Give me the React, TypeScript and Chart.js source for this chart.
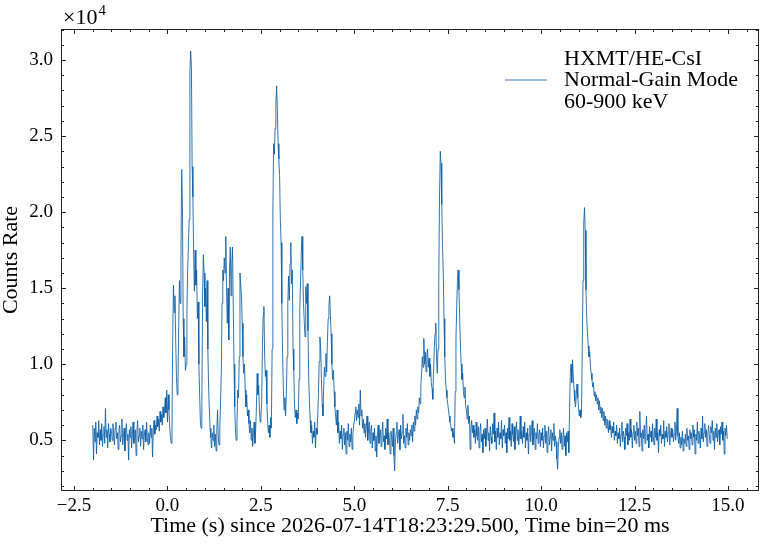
"use client"

import { useEffect, useRef } from "react"
import { Chart, registerables } from "chart.js"

Chart.register(...registerables)

// light curve: 20 ms bins starting at T0 - 2 s, rate in units of 1e4 counts/s
const BIN_START = -2.0
const BIN_WIDTH = 0.02

// -2.00 .. -0.02 s
const RATE_PRE = [
  0.60, 0.37, 0.58, 0.49, 0.62, 0.41, 0.55, 0.52, 0.63, 0.47, 0.57, 0.50, 0.61, 0.46, 0.54, 0.59, 0.48, 0.71, 0.52, 0.57, 0.45, 0.61, 0.54, 0.49, 0.58,
  0.56, 0.50, 0.61, 0.53, 0.47, 0.58, 0.62, 0.51, 0.55, 0.44, 0.57, 0.60, 0.49, 0.53, 0.64, 0.47, 0.52, 0.58, 0.43, 0.55, 0.61, 0.50, 0.54, 0.37, 0.57,
  0.52, 0.59, 0.45, 0.54, 0.62, 0.48, 0.51, 0.57, 0.40, 0.55, 0.63, 0.49, 0.53, 0.58, 0.46, 0.56, 0.51, 0.60, 0.44, 0.53, 0.57, 0.49, 0.62, 0.52, 0.47,
  0.55, 0.48, 0.60, 0.52, 0.58, 0.39, 0.56, 0.63, 0.54, 0.60, 0.57, 0.66, 0.59, 0.64, 0.56, 0.69, 0.62, 0.67, 0.60, 0.72, 0.65, 0.70, 0.78, 0.68, 0.83,
]

// 0.00 .. 4.98 s, first emission episode
const RATE_BURST_A = [
  0.62, 0.80, 0.70, 0.58, 0.52, 0.48, 0.55, 1.20, 1.52, 1.34, 1.45, 1.15, 0.92, 0.80, 0.86, 1.25, 1.55, 1.40, 1.70, 2.28, 2.05, 1.30, 1.05, 1.18, 0.96,
  1.00, 1.35, 1.62, 1.78, 1.95, 2.92, 3.06, 2.95, 2.30, 2.10, 1.72, 1.48, 1.75, 1.52, 1.62, 1.30, 1.41, 1.00, 0.80, 0.62, 0.58, 0.75, 1.45, 1.72, 1.60,
  1.38, 1.50, 1.28, 1.55, 1.10, 0.85, 0.70, 0.58, 0.52, 0.45, 0.55, 0.50, 0.60, 0.46, 0.54, 0.43, 0.57, 0.70, 0.52, 0.47, 0.58, 0.75, 0.95, 1.40, 1.62,
  1.55, 1.70, 1.60, 1.84, 1.48, 1.27, 1.50, 1.16, 1.62, 1.77, 1.45, 1.66, 1.77, 1.38, 1.00, 0.72, 0.55, 0.50, 0.62, 0.83, 0.78, 1.05, 1.60, 1.52, 1.45,
  1.27, 1.05, 0.94, 1.00, 0.83, 0.72, 0.80, 0.66, 0.70, 0.61, 0.55, 0.63, 0.50, 0.58, 0.46, 0.55, 0.62, 0.48, 0.57, 0.72, 0.94, 0.80, 0.86, 0.70, 0.62,
  0.66, 0.75, 1.10, 1.32, 1.38, 1.05, 0.92, 0.96, 0.74, 0.62, 0.55, 0.60, 0.52, 0.65, 0.58, 1.10, 1.99, 2.45, 2.38, 2.55, 2.70, 2.83, 2.68, 2.45, 2.35,
  2.24, 1.95, 1.80, 1.40, 1.07, 0.85, 0.70, 0.78, 0.66, 0.80, 1.05, 1.40, 1.58, 1.42, 1.66, 1.80, 1.53, 1.62, 1.10, 0.96, 0.74, 0.65, 0.70, 0.61, 0.68,
  0.64, 0.90, 1.35, 1.55, 1.72, 1.84, 1.62, 1.40, 1.28, 1.18, 1.51, 1.40, 1.53, 1.22, 0.90, 0.74, 0.63, 0.55, 0.60, 0.48, 0.56, 0.52, 0.62, 0.45, 0.58,
  0.54, 0.66, 0.80, 1.02, 1.18, 1.10, 0.90, 0.74, 0.66, 0.85, 0.98, 0.92, 1.07, 0.95, 1.15, 1.30, 1.38, 1.45, 1.32, 1.20, 1.00, 0.90, 0.96, 0.82, 0.72,
  0.66, 0.60, 0.70, 0.55, 0.62, 0.48, 0.56, 0.51, 0.60, 0.44, 0.54, 0.58, 0.47, 0.55, 0.41, 0.56, 0.50, 0.61, 0.46, 0.54, 0.49, 0.58, 0.44, 0.53, 0.60,
]

// 5.00 .. 6.48 s
const RATE_GAP = [
  0.62, 0.68, 0.72, 0.63, 0.70, 0.65, 0.74, 0.60, 0.83, 0.66, 0.70, 0.58, 0.64, 0.55, 0.61, 0.52, 0.59, 0.66, 0.50, 0.57, 0.62, 0.48, 0.56, 0.60, 0.45,
  0.55, 0.50, 0.58, 0.43, 0.53, 0.39, 0.55, 0.60, 0.48, 0.52, 0.57, 0.46, 0.54, 0.62, 0.49, 0.53, 0.44, 0.58, 0.51, 0.64, 0.47, 0.55, 0.50, 0.41, 0.56,
  0.52, 0.46, 0.58, 0.40, 0.30, 0.49, 0.55, 0.62, 0.48, 0.53, 0.57, 0.44, 0.60, 0.51, 0.55, 0.67, 0.48, 0.53, 0.45, 0.58, 0.52, 0.61, 0.47, 0.55, 0.50,
]

// 6.50 .. 8.48 s, second episode
const RATE_BURST_B = [
  0.57, 0.53, 0.60, 0.49, 0.62, 0.56, 0.66, 0.60, 0.70, 0.64, 0.72, 0.68, 0.78, 0.74, 0.86, 0.94, 1.05, 0.98, 1.17, 1.00, 1.08, 0.95, 1.06, 1.10, 0.98,
  1.04, 0.92, 1.00, 0.88, 0.84, 0.77, 0.95, 1.10, 1.20, 1.27, 1.05, 0.94, 1.10, 1.55, 2.10, 2.40, 2.32, 2.05, 1.78, 1.60, 1.30, 1.05, 0.90, 0.83, 0.78,
  0.74, 0.70, 0.66, 0.62, 0.60, 0.56, 0.58, 0.52, 0.55, 0.48, 0.82, 1.16, 1.38, 1.55, 1.62, 1.49, 1.30, 1.12, 1.00, 0.90, 0.94, 0.82, 0.78, 0.85, 0.72,
  0.70, 0.64, 0.73, 0.61, 0.66, 0.44, 0.58, 0.63, 0.55, 0.60, 0.52, 0.57, 0.48, 0.62, 0.53, 0.50, 0.59, 0.45, 0.55, 0.61, 0.49, 0.54, 0.42, 0.57, 0.51,
]

// 8.50 .. 10.48 s
const RATE_QUIET = [
  0.58, 0.46, 0.53, 0.64, 0.50, 0.55, 0.43, 0.59, 0.52, 0.48, 0.61, 0.54, 0.68, 0.49, 0.56, 0.44, 0.58, 0.52, 0.62, 0.47, 0.55, 0.51, 0.63, 0.45, 0.57,
  0.53, 0.60, 0.48, 0.55, 0.42, 0.58, 0.51, 0.65, 0.50, 0.56, 0.46, 0.61, 0.54, 0.49, 0.59, 0.44, 0.55, 0.62, 0.50, 0.57, 0.47, 0.53, 0.66, 0.51, 0.56,
  0.48, 0.59, 0.52, 0.62, 0.45, 0.55, 0.50, 0.58, 0.41, 0.54, 0.60, 0.49, 0.56, 0.63, 0.47, 0.53, 0.58, 0.44, 0.55, 0.51, 0.61, 0.48, 0.54, 0.57, 0.46,
  0.55, 0.50, 0.58, 0.45, 0.53, 0.60, 0.48, 0.56, 0.42, 0.54, 0.59, 0.47, 0.52, 0.57, 0.43, 0.55, 0.50, 0.61, 0.46, 0.53, 0.49, 0.38, 0.31, 0.45, 0.52,
]

// 10.50 .. 12.48 s, third episode
const RATE_BURST_C = [
  0.57, 0.48, 0.55, 0.44, 0.51, 0.58, 0.46, 0.53, 0.40, 0.55, 0.49, 0.56, 0.42, 0.70, 0.94, 1.00, 0.88, 1.03, 0.92, 0.83, 0.76, 0.72, 0.80, 0.87, 0.78,
  0.72, 0.66, 0.70, 0.65, 0.68, 1.10, 1.55, 1.93, 2.03, 1.88, 1.49, 1.30, 1.20, 1.12, 1.05, 1.08, 0.98, 0.94, 0.90, 0.85, 0.88, 0.79, 0.82, 0.76, 0.80,
  0.74, 0.78, 0.70, 0.76, 0.68, 0.72, 0.65, 0.71, 0.63, 0.69, 0.60, 0.66, 0.58, 0.64, 0.61, 0.55, 0.63, 0.57, 0.60, 0.52, 0.59, 0.55, 0.62, 0.50, 0.56,
  0.53, 0.60, 0.48, 0.55, 0.51, 0.58, 0.46, 0.54, 0.62, 0.49, 0.56, 0.52, 0.44, 0.58, 0.53, 0.61, 0.47, 0.55, 0.50, 0.64, 0.52, 0.57, 0.45, 0.55, 0.60,
]

// 12.50 .. 14.98 s
const RATE_TAIL = [
  0.50, 0.56, 0.48, 0.62, 0.53, 0.58, 0.46, 0.69, 0.52, 0.55, 0.43, 0.57, 0.51, 0.60, 0.48, 0.55, 0.66, 0.50, 0.54, 0.45, 0.59, 0.52, 0.56, 0.49, 0.61,
  0.53, 0.47, 0.58, 0.52, 0.64, 0.50, 0.55, 0.42, 0.57, 0.53, 0.60, 0.48, 0.54, 0.51, 0.63, 0.46, 0.56, 0.52, 0.59, 0.49, 0.55, 0.61, 0.47, 0.53, 0.58,
  0.52, 0.57, 0.49, 0.54, 0.62, 0.50, 0.56, 0.71, 0.53, 0.48, 0.55, 0.45, 0.52, 0.47, 0.56, 0.43, 0.51, 0.48, 0.54, 0.46, 0.58, 0.50, 0.53, 0.44, 0.57,
  0.51, 0.55, 0.47, 0.60, 0.52, 0.57, 0.41, 0.54, 0.50, 0.62, 0.48, 0.56, 0.53, 0.45, 0.58, 0.51, 0.66, 0.49, 0.55, 0.61, 0.52, 0.57, 0.46, 0.54, 0.60,
  0.53, 0.48, 0.59, 0.55, 0.63, 0.50, 0.56, 0.44, 0.58, 0.52, 0.61, 0.49, 0.55, 0.57, 0.47, 0.59, 0.54, 0.62, 0.50, 0.56, 0.41, 0.58, 0.53, 0.60, 0.51,
]

const RATE = [...RATE_PRE, ...RATE_BURST_A, ...RATE_GAP, ...RATE_BURST_B, ...RATE_QUIET, ...RATE_BURST_C, ...RATE_TAIL]

const X_TICKS = [-2.5, 0, 2.5, 5, 7.5, 10, 12.5, 15]
const Y_TICKS = [0.5, 1.0, 1.5, 2.0, 2.5, 3.0]
const X_MINOR = 0.5
const Y_MINOR = 0.1

const X_TITLE = "Time (s) since 2026-07-14T18:23:29.500, Time bin=20 ms"
const Y_TITLE = "Counts Rate"
const LEGEND_LINES = ["HXMT/HE-CsI", "Normal-Gain Mode", "60-900 keV"]

const LINE_COLOR = "#0C5DA5"
const FONT = "'Liberation Serif', 'Times New Roman', serif"

const fmtTick = (v: number) => v.toFixed(1).replace("-", "\u2212")

// frame, inward ticks on every side, offset text and legend (matplotlib look)
const decor = {
  id: "decor",
  afterDraw(chart: Chart) {
    const { ctx, chartArea: a } = chart
    const xs = chart.scales.x
    const ys = chart.scales.y
    ctx.save()
    ctx.strokeStyle = "#222"
    ctx.lineWidth = 1
    ctx.strokeRect(a.left + 0.5, a.top + 0.5, a.right - a.left - 1, a.bottom - a.top - 1)

    ctx.beginPath()
    for (let k = Math.ceil(xs.min / X_MINOR); k * X_MINOR <= xs.max; k++) {
      const v = k * X_MINOR
      const major = X_TICKS.some((t) => Math.abs(t - v) < 1e-6)
      const len = major ? 5 : 3
      const px = Math.round(xs.getPixelForValue(v)) + 0.5
      ctx.moveTo(px, a.bottom)
      ctx.lineTo(px, a.bottom - len)
      ctx.moveTo(px, a.top)
      ctx.lineTo(px, a.top + len)
    }
    for (let k = Math.ceil(ys.min / Y_MINOR); k * Y_MINOR <= ys.max; k++) {
      const v = k * Y_MINOR
      const major = Y_TICKS.some((t) => Math.abs(t - v) < 1e-6)
      const len = major ? 5 : 3
      const py = Math.round(ys.getPixelForValue(v)) + 0.5
      ctx.moveTo(a.left, py)
      ctx.lineTo(a.left + len, py)
      ctx.moveTo(a.right, py)
      ctx.lineTo(a.right - len, py)
    }
    ctx.stroke()

    // axis offset text
    ctx.fillStyle = "#000"
    ctx.textBaseline = "alphabetic"
    ctx.textAlign = "left"
    ctx.font = `22px ${FONT}`
    ctx.fillText("\u00d710", a.left + 2, a.top - 5)
    const w = ctx.measureText("\u00d710").width
    ctx.font = `15px ${FONT}`
    ctx.fillText("4", a.left + 2 + w + 1, a.top - 14)

    // legend
    ctx.strokeStyle = LINE_COLOR
    ctx.lineWidth = 0.8
    ctx.beginPath()
    ctx.moveTo(a.right - 254, a.top + 51)
    ctx.lineTo(a.right - 212, a.top + 51)
    ctx.stroke()
    ctx.font = `22px ${FONT}`
    LEGEND_LINES.forEach((line, i) => {
      ctx.fillText(line, a.right - 195, a.top + 35.5 + i * 21.5)
    })
    ctx.restore()
  },
}

export default function App() {
  const chartRef = useRef<HTMLCanvasElement>(null)
  const chartInstance = useRef<Chart | null>(null)

  useEffect(() => {
    if (!chartRef.current) return
    const ctx = chartRef.current.getContext("2d")
    if (!ctx) return

    if (chartInstance.current) {
      chartInstance.current.destroy()
    }

    const points = RATE.map((r, i) => ({ x: BIN_START + i * BIN_WIDTH, y: r }))

    chartInstance.current = new Chart(ctx, {
      type: "line",
      data: {
        datasets: [
          {
            label: LEGEND_LINES.join(" "),
            data: points,
            borderColor: LINE_COLOR,
            borderWidth: 0.85,
            pointRadius: 0,
            tension: 0,
            fill: false,
          },
        ],
      },
      options: {
        animation: false,
        responsive: false,
        layout: { padding: { top: 29, right: 4, left: 0, bottom: 0 } },
        plugins: {
          legend: { display: false },
          tooltip: { enabled: false },
        },
        scales: {
          x: {
            type: "linear",
            min: -2.85,
            max: 15.83,
            afterBuildTicks: (s) => {
              s.ticks = X_TICKS.map((value) => ({ value }))
            },
            afterFit: (s) => {
              s.height = 54
            },
            grid: { display: false, drawTicks: false },
            border: { display: false },
            ticks: {
              color: "#000",
              font: { family: FONT, size: 19 },
              padding: 4,
              maxRotation: 0,
              autoSkip: false,
              callback: (v) => fmtTick(Number(v)),
            },
            title: {
              display: true,
              text: X_TITLE,
              color: "#000",
              font: { family: FONT, size: 22 },
              padding: { top: 0, bottom: 6 },
            },
          },
          y: {
            type: "linear",
            min: 0.167,
            max: 3.204,
            afterBuildTicks: (s) => {
              s.ticks = Y_TICKS.map((value) => ({ value }))
            },
            afterFit: (s) => {
              s.width = 61
            },
            grid: { display: false, drawTicks: false },
            border: { display: false },
            ticks: {
              color: "#000",
              font: { family: FONT, size: 19 },
              padding: 8,
              autoSkip: false,
              callback: (v) => fmtTick(Number(v)),
            },
            title: {
              display: true,
              text: Y_TITLE,
              color: "#000",
              font: { family: FONT, size: 22 },
              padding: { top: -2, bottom: 0 },
            },
          },
        },
      },
      plugins: [decor],
    })

    return () => {
      if (chartInstance.current) {
        chartInstance.current.destroy()
        chartInstance.current = null
      }
    }
  }, [])

  return (
    <div style={{ position: "absolute", left: 0, top: 0, width: 763, height: 545, background: "#fff" }}>
      <canvas ref={chartRef} width={763} height={545} style={{ width: 763, height: 545 }} />
    </div>
  )
}
